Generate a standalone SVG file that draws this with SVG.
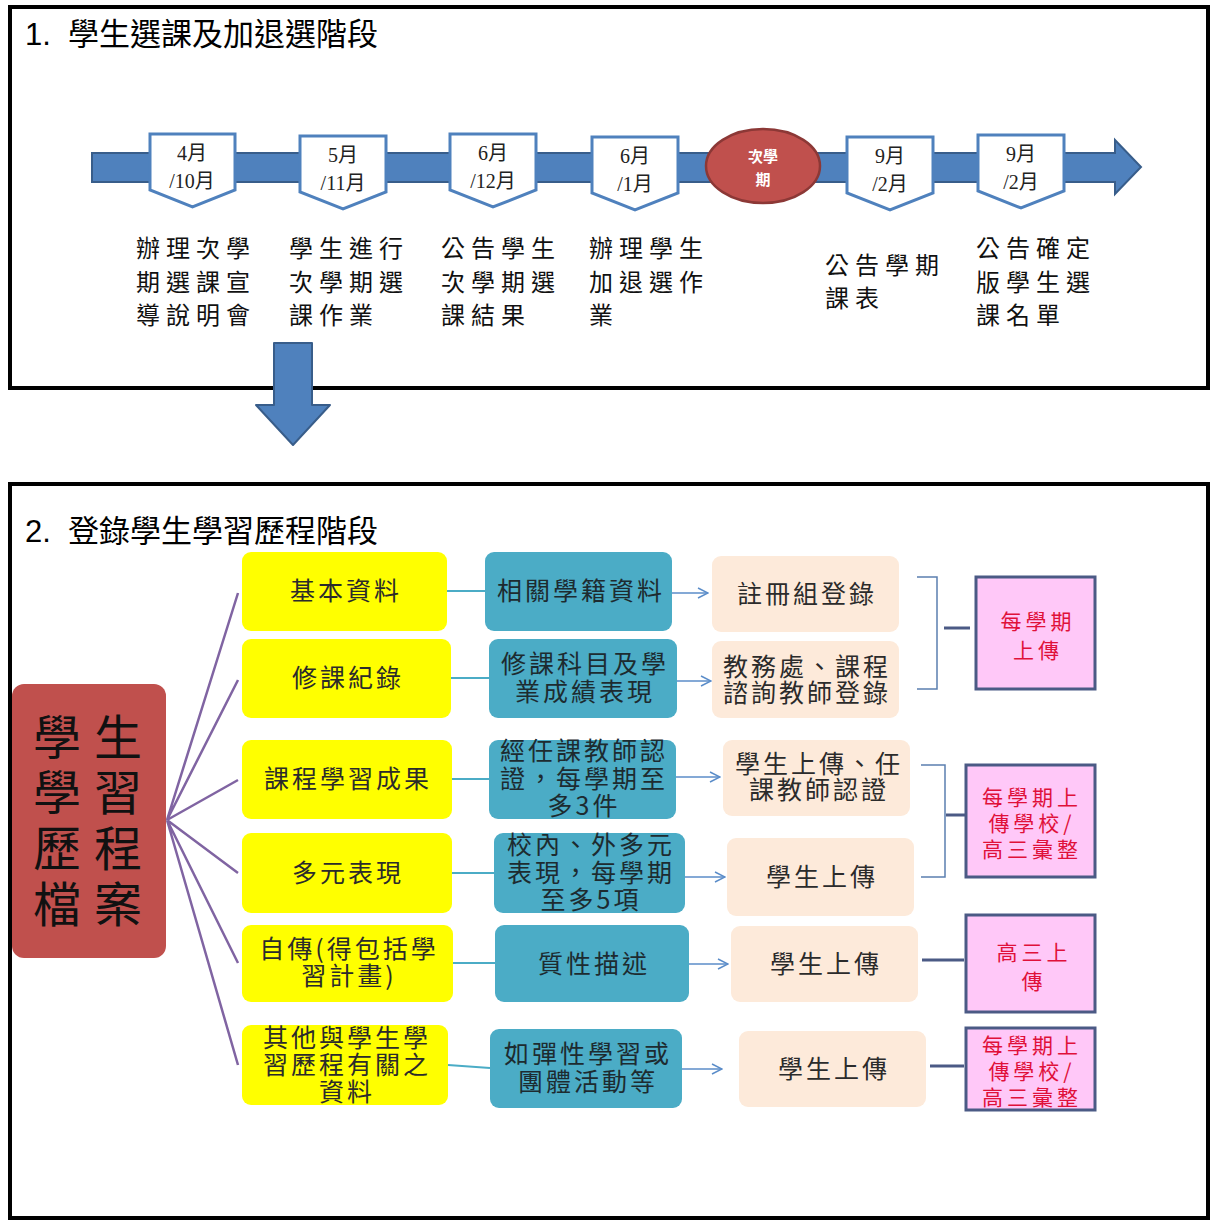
<svg xmlns="http://www.w3.org/2000/svg" width="1212" height="1220" viewBox="0 0 1212 1220">
<defs>
<marker id="ah" viewBox="0 0 12 12" refX="11" refY="6" markerWidth="12" markerHeight="12" markerUnits="userSpaceOnUse" orient="auto">
<path d="M1 1 L11 6 L1 11" fill="none" stroke="#5B8DC9" stroke-width="1.5"/>
</marker>
</defs>
<style>
.frame{fill:#fff;stroke:#000;stroke-width:4}
.title{font-family:"Liberation Sans","Noto Sans CJK TC",sans-serif;font-size:31px;fill:#000}
.bar{fill:#4F81BD;stroke:#385D8A;stroke-width:2}
.pent{fill:#fff;stroke:#4F81BD;stroke-width:3}
.pt{font-family:"Liberation Serif","Noto Sans CJK TC",serif;font-size:20px;fill:#222;text-anchor:middle}
.lab{font-family:"Noto Sans CJK TC",sans-serif;font-size:24px;fill:#111;letter-spacing:6px}
.yel{fill:#FFFF00}
.teal{fill:#4BACC6}
.peach{fill:#FDEADA}
.pink{fill:#FFC8F8;stroke:#4B5A85;stroke-width:3}
.bt{font-family:"Noto Sans CJK TC",sans-serif;font-size:25px;fill:#2b2b2b;text-anchor:middle;letter-spacing:3px}
.tt{font-family:"Noto Sans CJK TC",sans-serif;font-size:25px;fill:#1d2b30;text-anchor:middle;letter-spacing:3px}
.kt{font-family:"Noto Sans CJK TC",sans-serif;font-size:21px;fill:#E0103A;text-anchor:middle;letter-spacing:4px}
.fan{stroke:#8064A2;stroke-width:2.5;fill:none}
.yt{stroke:#4BACC6;stroke-width:2;fill:none}
.tp{stroke:#5B8DC9;stroke-width:1.5;fill:none;marker-end:url(#ah)}
.brk{stroke:#5B7FB0;stroke-width:1.5;fill:none}
.kc{stroke:#4B5A85;stroke-width:3;fill:none}
</style>

<g id="frame1">
<rect class="frame" x="10" y="7" width="1198" height="381"/>
<text class="title" x="25" y="45">1.</text>
<text class="title" x="68" y="45" font-size="32">學生選課及加退選階段</text>
</g>

<g id="timeline">
<path class="bar" d="M92 153 H1115 V140 L1141 167 L1115 194 V182 H92 Z"/>
</g>

<g id="p1"><path class="pent" d="M150 134 H235 V190 L192.5 207 L150 190 Z"/><text class="pt" x="192" y="160">4月</text><text class="pt" x="192" y="188">/10月</text></g>
<g id="p2"><path class="pent" d="M300 136 H386 V192 L343 209 L300 192 Z"/><text class="pt" x="343" y="162">5月</text><text class="pt" x="343" y="190">/11月</text></g>
<g id="p3"><path class="pent" d="M450 134 H536 V190 L493 207 L450 190 Z"/><text class="pt" x="493" y="160">6月</text><text class="pt" x="493" y="188">/12月</text></g>
<g id="p4"><path class="pent" d="M592 137 H678 V193 L635 210 L592 193 Z"/><text class="pt" x="635" y="163">6月</text><text class="pt" x="635" y="191">/1月</text></g>
<g id="next"><ellipse cx="763" cy="166" rx="57" ry="37" fill="#C0504D" stroke="#8C3836" stroke-width="2.5"/><text x="763" y="162" font-family="Noto Sans CJK TC,sans-serif" font-size="15" fill="#fff" text-anchor="middle" font-weight="bold">次學</text><text x="763" y="185" font-family="Noto Sans CJK TC,sans-serif" font-size="15" fill="#fff" text-anchor="middle" font-weight="bold">期</text></g>
<g id="p5"><path class="pent" d="M847 137 H933 V193 L890 210 L847 193 Z"/><text class="pt" x="890" y="163">9月</text><text class="pt" x="890" y="191">/2月</text></g>
<g id="p6"><path class="pent" d="M978 135 H1064 V191 L1021 208 L978 191 Z"/><text class="pt" x="1021" y="161">9月</text><text class="pt" x="1021" y="189">/2月</text></g>

<g id="labels">
<text class="lab" x="136" y="257">辦理次學</text><text class="lab" x="136" y="291">期選課宣</text><text class="lab" x="136" y="324">導說明會</text>
<text class="lab" x="289" y="257">學生進行</text><text class="lab" x="289" y="291">次學期選</text><text class="lab" x="289" y="324">課作業</text>
<text class="lab" x="441" y="257">公告學生</text><text class="lab" x="441" y="291">次學期選</text><text class="lab" x="441" y="324">課結果</text>
<text class="lab" x="589" y="257">辦理學生</text><text class="lab" x="589" y="291">加退選作</text><text class="lab" x="589" y="324">業</text>
<text class="lab" x="825" y="274">公告學期</text><text class="lab" x="825" y="307">課表</text>
<text class="lab" x="976" y="257">公告確定</text><text class="lab" x="976" y="291">版學生選</text><text class="lab" x="976" y="324">課名單</text>
</g>

<g id="frame2">
<rect class="frame" x="10" y="484" width="1198" height="734"/>
<text class="title" x="25" y="542">2.</text>
<text class="title" x="68" y="542" font-size="32">登錄學生學習歷程階段</text>
</g>

<g id="downarrow">
<path class="bar" d="M274 343 H312 V405 H330 L293 445 L256 405 H274 Z" stroke-width="2.5" stroke-linejoin="round"/>
</g>

<g id="connectors">
<path class="fan" d="M167 820 L238 593 M167 820 L238 680 M167 820 L238 780 M167 820 L238 873 M167 820 L238 963 M167 820 L238 1065"/>
<path class="yt" d="M446 591 H485 M451 678 H489 M451 779 H489 M451 873 H494 M453 963 H495 M448 1065 L490 1068"/>
<path class="tp" d="M666 593 H708"/>
<path class="tp" d="M672 681 H711"/>
<path class="tp" d="M676 777 H720"/>
<path class="tp" d="M685 877 H725"/>
<path class="tp" d="M689 964 H728"/>
<path class="tp" d="M682 1069 H722"/>
<path class="brk" d="M917 577 H937 V689 H917"/>
<path class="kc" d="M944 628 H970"/>
<path class="brk" d="M921 765 H945 V877 H921"/>
<path class="kc" d="M946 815 H966"/>
<path class="kc" d="M922 960 H964"/>
<path class="kc" d="M930 1066 H964"/>
</g>

<g id="root">
<rect x="12" y="684" width="154" height="274" rx="12" fill="#C0504D"/>
<g font-family="Noto Sans CJK TC,sans-serif" font-size="48" fill="#111">
<text x="33" y="755">學</text><text x="94" y="755">生</text>
<text x="33" y="810">學</text><text x="94" y="810">習</text>
<text x="33" y="866">歷</text><text x="94" y="866">程</text>
<text x="33" y="922">檔</text><text x="94" y="922">案</text>
</g>
</g>

<g id="y1"><rect class="yel" x="242" y="552" width="205" height="79" rx="9"/><text class="bt" x="346" y="600">基本資料</text></g>
<g id="y2"><rect class="yel" x="242" y="639" width="209" height="79" rx="9"/><text class="bt" x="348" y="687">修課紀錄</text></g>
<g id="y3"><rect class="yel" x="242" y="740" width="210" height="79" rx="9"/><text class="bt" x="348" y="788">課程學習成果</text></g>
<g id="y4"><rect class="yel" x="242" y="833" width="210" height="80" rx="9"/><text class="bt" x="348" y="882">多元表現</text></g>
<g id="y5"><rect class="yel" x="242" y="925" width="211" height="77" rx="9"/><text class="bt" x="349" y="958">自傳(得包括學</text><text class="bt" x="349" y="985">習計畫)</text></g>
<g id="y6"><rect class="yel" x="242" y="1025" width="206" height="80" rx="9"/><text class="bt" x="347" y="1047">其他與學生學</text><text class="bt" x="347" y="1074">習歷程有關之</text><text class="bt" x="347" y="1101">資料</text></g>

<g id="t1"><rect class="teal" x="485" y="552" width="187" height="79" rx="9"/><text class="tt" x="581" y="600">相關學籍資料</text></g>
<g id="t2"><rect class="teal" x="489" y="639" width="188" height="79" rx="9"/><text class="tt" x="585" y="673">修課科目及學</text><text class="tt" x="585" y="701">業成績表現</text></g>
<g id="t3"><rect class="teal" x="489" y="740" width="187" height="79" rx="9"/><text class="tt" x="584" y="760">經任課教師認</text><text class="tt" x="584" y="788">證，每學期至</text><text class="tt" x="584" y="815">多3件</text></g>
<g id="t4"><rect class="teal" x="494" y="833" width="191" height="80" rx="9"/><text class="tt" x="591" y="854">校內、外多元</text><text class="tt" x="591" y="882">表現，每學期</text><text class="tt" x="591" y="909">至多5項</text></g>
<g id="t5"><rect class="teal" x="495" y="925" width="194" height="77" rx="9"/><text class="tt" x="594" y="973">質性描述</text></g>
<g id="t6"><rect class="teal" x="490" y="1029" width="192" height="79" rx="9"/><text class="tt" x="588" y="1063">如彈性學習或</text><text class="tt" x="588" y="1091">團體活動等</text></g>

<g id="pe1"><rect class="peach" x="712" y="556" width="187" height="76" rx="9"/><text class="bt" x="807" y="603">註冊組登錄</text></g>
<g id="pe2"><rect class="peach" x="712" y="641" width="187" height="77" rx="9"/><text class="bt" x="807" y="676">教務處、課程</text><text class="bt" x="807" y="702">諮詢教師登錄</text></g>
<g id="pe3"><rect class="peach" x="723" y="740" width="187" height="76" rx="9"/><text class="bt" x="819" y="773">學生上傳、任</text><text class="bt" x="819" y="799">課教師認證</text></g>
<g id="pe4"><rect class="peach" x="727" y="838" width="187" height="78" rx="9"/><text class="bt" x="822" y="886">學生上傳</text></g>
<g id="pe5"><rect class="peach" x="731" y="926" width="187" height="76" rx="9"/><text class="bt" x="826" y="973">學生上傳</text></g>
<g id="pe6"><rect class="peach" x="739" y="1031" width="187" height="76" rx="9"/><text class="bt" x="834" y="1078">學生上傳</text></g>

<g id="k1"><rect class="pink" x="976" y="577" width="119" height="112"/><text class="kt" x="1038" y="629" font-size="22" letter-spacing="6">每學期</text><text class="kt" x="1038" y="658" font-size="22" letter-spacing="6">上傳</text></g>
<g id="k2"><rect class="pink" x="966" y="765" width="129" height="112"/><text class="kt" x="1032" y="805">每學期上</text><text class="kt" x="1032" y="831">傳學校/</text><text class="kt" x="1032" y="857">高三彙整</text></g>
<g id="k3"><rect class="pink" x="966" y="915" width="129" height="97"/><text class="kt" x="1034" y="960" font-size="22" letter-spacing="6">高三上</text><text class="kt" x="1034" y="989" font-size="22">傳</text></g>
<g id="k4"><rect class="pink" x="966" y="1028" width="129" height="82"/><text class="kt" x="1032" y="1053">每學期上</text><text class="kt" x="1032" y="1079">傳學校/</text><text class="kt" x="1032" y="1105">高三彙整</text></g>
</svg>
